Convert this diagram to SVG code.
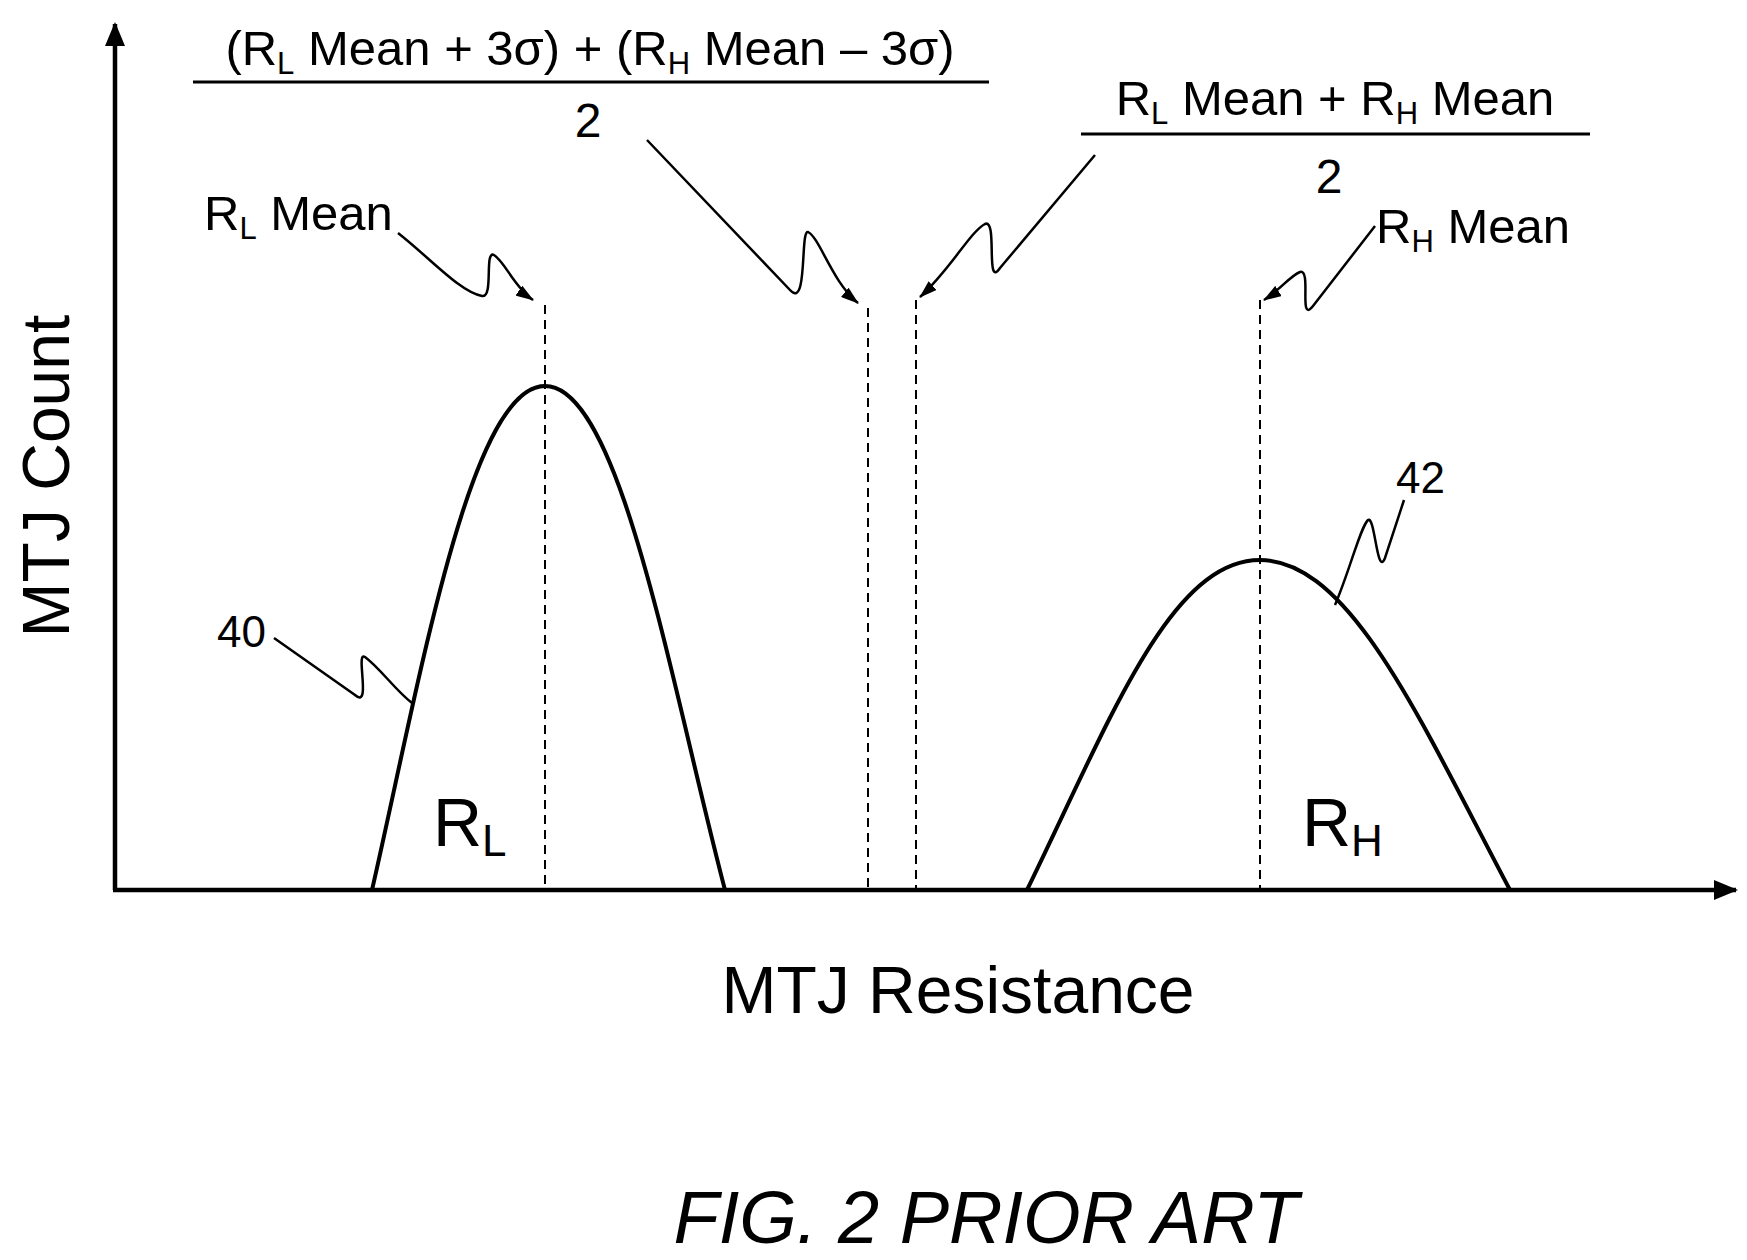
<svg xmlns="http://www.w3.org/2000/svg" width="1747" height="1260" viewBox="0 0 1747 1260">
<style>
text{font-family:"Liberation Sans",Arial,sans-serif;fill:#000}
.ax{stroke:#000;stroke-width:4.5;fill:none}
.cv{stroke:#000;stroke-width:4;fill:none}
.ld{stroke:#000;stroke-width:2.5;fill:none}
.ds{stroke:#000;stroke-width:2;stroke-dasharray:9,6;fill:none}
</style>
<defs>
<marker id="ah" markerWidth="18" markerHeight="12" refX="17" refY="6" orient="auto" markerUnits="userSpaceOnUse" viewBox="0 0 18 12"><path d="M0,0 L18,6 L0,12 Z" fill="#000"/></marker>
<marker id="ab" markerWidth="24" markerHeight="20" refX="22" refY="10" orient="auto" markerUnits="userSpaceOnUse" viewBox="0 0 24 20"><path d="M0,0 L24,10 L0,20 Z" fill="#000"/></marker>
</defs>
<rect width="1747" height="1260" fill="#fff"/>
<g id="axes">
<line class="ax" x1="115" y1="890" x2="115" y2="24" marker-end="url(#ab)"/>
<line class="ax" x1="113" y1="890" x2="1736" y2="890" marker-end="url(#ab)"/>
<text x="69" y="476" font-size="66" text-anchor="middle" transform="rotate(-90 69 476)">MTJ Count</text>
<text x="958" y="1013" font-size="66" text-anchor="middle">MTJ Resistance</text>
</g>
<g id="curve40"><path class="cv" d="M372,890 C420,680 470,386 545,386 C620,386 670,680 725,890"/><text x="433" y="846" font-size="68">R<tspan font-size="44" dy="10">L</tspan></text></g>
<g id="curve42"><path class="cv" d="M1027,890 C1110,720 1170,560 1260,560 C1350,560 1420,720 1510,890"/><text x="1302" y="846" font-size="68">R<tspan font-size="44" dy="10">H</tspan></text></g>
<g id="dashes">
<line class="ds" x1="545" y1="305" x2="545" y2="888"/>
<line class="ds" x1="868" y1="308" x2="868" y2="888"/>
<line class="ds" x1="916" y1="300" x2="916" y2="888"/>
<line class="ds" x1="1260" y1="300" x2="1260" y2="888"/>
</g>
<g id="labels">
<text x="590" y="65" font-size="49" text-anchor="middle">(R<tspan font-size="31" dy="9">L</tspan><tspan dy="-9"> Mean + 3σ) + (R</tspan><tspan font-size="31" dy="9">H</tspan><tspan dy="-9"> Mean – 3σ)</tspan></text>
<line x1="193" y1="82" x2="989" y2="82" stroke="#000" stroke-width="3"/>
<text x="588" y="137" font-size="48" text-anchor="middle">2</text>
<text x="1335" y="115" font-size="49" text-anchor="middle">R<tspan font-size="31" dy="9">L</tspan><tspan dy="-9"> Mean + R</tspan><tspan font-size="31" dy="9">H</tspan><tspan dy="-9"> Mean</tspan></text>
<line x1="1081" y1="134" x2="1590" y2="134" stroke="#000" stroke-width="3"/>
<text x="1329" y="193" font-size="48" text-anchor="middle">2</text>
<text x="204" y="230" font-size="49">R<tspan font-size="31" dy="9">L</tspan><tspan dy="-9"> Mean</tspan></text>
<text x="1376" y="243" font-size="49">R<tspan font-size="31" dy="9">H</tspan><tspan dy="-9"> Mean</tspan></text>
<text x="217" y="647" font-size="44">40</text>
<text x="1396" y="493" font-size="44">42</text>
<text x="986" y="1243" font-size="74" font-style="italic" text-anchor="middle">FIG. 2 PRIOR ART</text>
</g>
<g id="connectors">
<path class="ld" d="M398,233 C430,258 460,292 482,296 C494,298 484,250 494,255 C505,262 515,288 533,300" marker-end="url(#ah)"/>
<path class="ld" d="M647,140 L790,290 C808,310 800,230 808,232 C820,238 832,282 858,303" marker-end="url(#ah)"/>
<path class="ld" d="M1095,155 L1000,268 C985,290 998,218 985,224 C970,232 950,270 920,297" marker-end="url(#ah)"/>
<path class="ld" d="M1375,226 L1313,306 C1298,325 1312,268 1300,272 C1290,276 1280,290 1264,300" marker-end="url(#ah)"/>
<path class="ld" d="M274,638 L355,695 C372,710 355,650 365,657 C380,668 395,690 412,703"/>
<path class="ld" d="M1404,500 L1385,558 C1377,578 1375,515 1368,520 C1360,528 1350,570 1335,605"/>
</g>
</svg>
